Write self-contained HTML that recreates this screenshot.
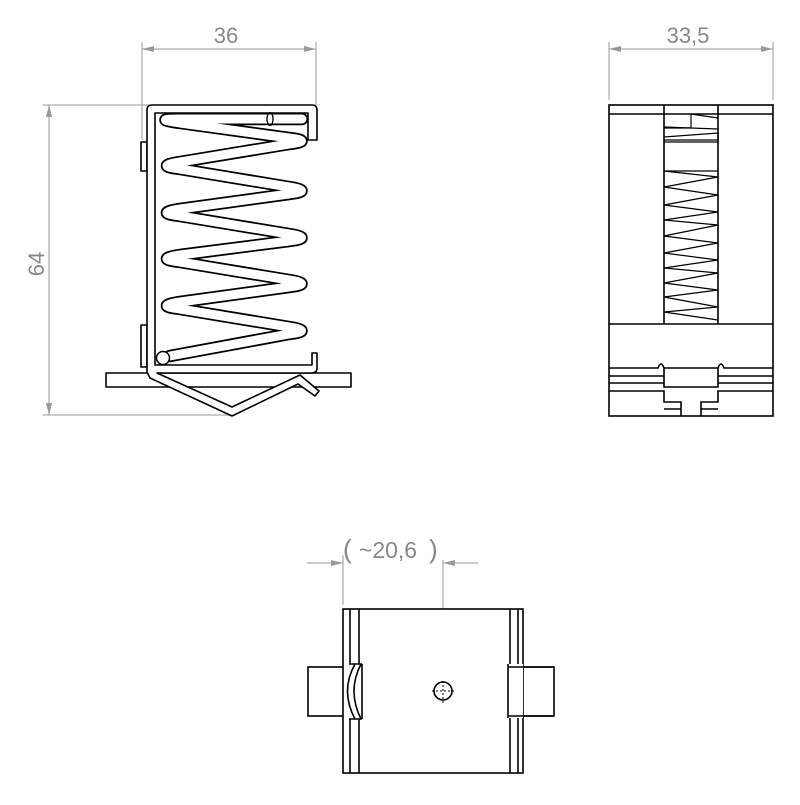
<!DOCTYPE html>
<html><head><meta charset="utf-8"><style>html,body{margin:0;padding:0;background:#fff}</style></head>
<body>
<svg width="800" height="800" viewBox="0 0 800 800" xmlns="http://www.w3.org/2000/svg">
<defs>
<marker id="a" viewBox="0 0 12 6" refX="12" refY="3" markerWidth="12" markerHeight="6" orient="auto-start-reverse" markerUnits="userSpaceOnUse"><path d="M0,0 L12,3 L0,6 z" fill="#999"/></marker>
</defs>
<g stroke="#999" stroke-width="1" fill="none">
<line x1="142" y1="42" x2="142" y2="140"/>
<line x1="316" y1="42" x2="316" y2="110"/>
<line x1="142" y1="49" x2="316" y2="49" marker-start="url(#a)" marker-end="url(#a)"/>
<line x1="43" y1="105" x2="150" y2="105"/>
<line x1="43" y1="415" x2="232" y2="415"/>
<line x1="49" y1="105" x2="49" y2="415" marker-start="url(#a)" marker-end="url(#a)"/>
<line x1="609" y1="42" x2="609" y2="100"/>
<line x1="773" y1="42" x2="773" y2="100"/>
<line x1="609" y1="49" x2="773" y2="49" marker-start="url(#a)" marker-end="url(#a)"/>
<line x1="343" y1="555" x2="343" y2="605"/>
<line x1="443" y1="560" x2="443" y2="703"/>
<line x1="307" y1="563" x2="343" y2="563"/>
<line x1="329" y1="563" x2="343" y2="563" marker-end="url(#a)"/>
<line x1="478" y1="563" x2="443" y2="563"/>
<line x1="470" y1="563" x2="443" y2="563" marker-end="url(#a)"/>
</g>
<g fill="#888" font-family="Liberation Sans, sans-serif" font-size="22">
<text x="226" y="43" text-anchor="middle">36</text>
<text x="688" y="43" text-anchor="middle">33,5</text>
<text x="44" y="264" text-anchor="middle" transform="rotate(-90 44 264)">64</text>
<text x="343" y="558" font-size="26">(</text>
<text x="388" y="558" text-anchor="middle" font-size="23">~20,6</text>
<text x="429" y="558" font-size="26">)</text>
</g>
<!-- left view -->
<g stroke="#000" stroke-width="1.6" fill="none" stroke-linejoin="round">
<rect x="106" y="373" width="245" height="14" fill="#fff"/>
<rect x="141" y="142" width="6" height="29"/>
<rect x="141" y="325" width="6" height="42"/>
<path d="M317,140 V110 Q317,105 312,105 H152 Q147,105 147,110 V372 L150,378 L232,416 L298,384 L315,396 L319,391 L300,375 L232,407 L157,373 H312 Q317,373 317,368 V353 H312 V365 H155 V113 H308 V140 Z" fill="#fff"/>
</g>
<g fill="none" stroke-linecap="round" stroke-linejoin="round">
<path d="M302,119 H178 Q152,119 180,123 L289,138 Q314,141 289,144 L180,162 Q154,166 180,169 L289,187 Q314,191 289,194 L180,209 Q154,213 180,216 L289,234 Q314,238 289,241 L180,255 Q154,259 180,262 L289,280 Q314,284 289,287 L180,302 Q154,306 180,309 L289,327 Q314,331 289,334 L170,356" stroke="#000" stroke-width="12.5"/>
<path d="M302,119 H178 Q152,119 180,123 L289,138 Q314,141 289,144 L180,162 Q154,166 180,169 L289,187 Q314,191 289,194 L180,209 Q154,213 180,216 L289,234 Q314,238 289,241 L180,255 Q154,259 180,262 L289,280 Q314,284 289,287 L180,302 Q154,306 180,309 L289,327 Q314,331 289,334 L170,356" stroke="#fff" stroke-width="9"/>
<circle cx="163" cy="358" r="6.5" stroke="#000" stroke-width="1.5" fill="#fff"/>
<ellipse cx="270" cy="119" rx="3" ry="6.5" stroke="#000" stroke-width="1.3"/>
</g>
<!-- right view -->
<g stroke="#000" stroke-width="1.6" fill="none">
<rect x="609" y="105" width="164" height="311"/>
<line x1="609" y1="114" x2="773" y2="114"/>
<line x1="664" y1="105" x2="664" y2="324"/>
<line x1="718" y1="105" x2="718" y2="324"/>
<line x1="609" y1="324" x2="773" y2="324"/>
<path d="M609,368 H658 Q661,360 664,368 V387 H718 V368 Q721,360 724,368 H773"/>
<path d="M609,376 H664 M718,376 H773 M609,383 H664 M718,383 H773"/>
<path d="M664,368 H718"/>
<path d="M609,391 H664 V402 H681 V416 M773,391 H718 V402 H701 V416"/>
<path d="M664,409 H681 M718,409 H701"/>
<g stroke-width="1.2">
<path d="M664,128 H691 V114"/>
<path d="M691,114 L718,118 M664,127 L718,129 M664,137 L718,133 L718,140 L664,140 M664,142 L718,142"/>
<path d="M664,171 L718,177 L664,187 L718,195 L664,205 L718,212 L664,220 L718,225 L664,236 L718,243 L664,253 L718,260 L664,268 L718,273 L664,283 L718,290 L664,297 L718,307 L664,312 L718,320"/>
<path d="M664,171 H718"/>
</g>
</g>
<!-- bottom view -->
<g stroke="#000" stroke-width="1.6" fill="none">
<rect x="308" y="667" width="36" height="49"/>
<rect x="508" y="667" width="46" height="49"/>
<rect x="343" y="609" width="180" height="164" fill="#fff"/>
<line x1="350" y1="609" x2="350" y2="773"/>
<line x1="359" y1="609" x2="359" y2="773"/>
<line x1="510" y1="609" x2="510" y2="664"/>
<line x1="518" y1="609" x2="518" y2="664"/>
<line x1="510" y1="718" x2="510" y2="773"/>
<line x1="518" y1="718" x2="518" y2="773"/>
<rect x="508" y="664" width="15" height="54" fill="#fff" stroke="none"/>
<path d="M508,664 V718 M508,667 H554 M508,716 H554"/>
<rect x="346" y="664" width="17" height="55" fill="#fff" stroke="none"/>
<path d="M362,664 V719 M349,664 H362 M349,719 H362 M355,664 Q340,691 355,719 M361,664 Q347,691 361,719"/>
<circle cx="443" cy="691" r="9"/>
<path d="M432,691 H454 M443,681 V703" stroke-width="1" stroke-dasharray="2 2"/>
</g>
</svg>
</body></html>
